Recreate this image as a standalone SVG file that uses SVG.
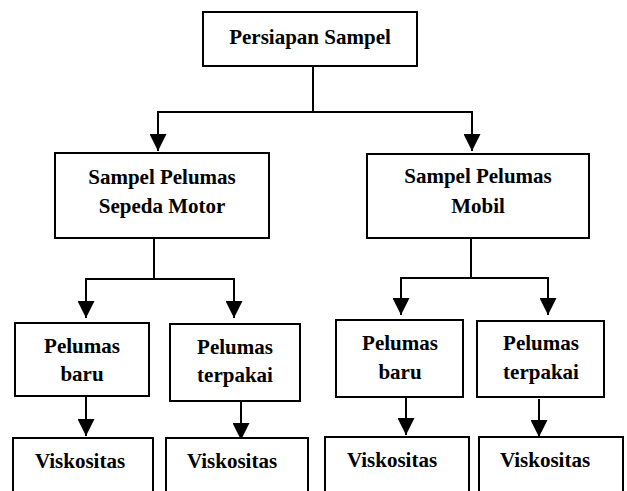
<svg xmlns="http://www.w3.org/2000/svg" width="627" height="491" viewBox="0 0 627 491">
<style>
.box{fill:#fff;stroke:#000;stroke-width:2}
.t{font-family:'Liberation Serif',Tinos,'Times New Roman','DejaVu Serif',serif;font-weight:700;font-size:21px;text-anchor:middle;fill:#000}
.c{fill:none;stroke:#000;stroke-width:2}
</style>
<defs>
<marker id="ah" markerUnits="userSpaceOnUse" markerWidth="18" markerHeight="17" refX="17" refY="8.5" orient="auto" viewBox="0 0 18 17">
<path d="M0,0 L17,8.5 L0,17 z" fill="#000"/>
</marker>
</defs>
<rect width="627" height="491" fill="#fff"/>
<g id="connectors">
<path class="c" d="M313,66 V112 M157,112 H473"/>
<path class="c" d="M158,112 V151" marker-end="url(#ah)"/>
<path class="c" d="M472,112 V151" marker-end="url(#ah)"/>
<path class="c" d="M154,238 V279 M85,279 H235"/>
<path class="c" d="M86,279 V318" marker-end="url(#ah)"/>
<path class="c" d="M234,279 V318" marker-end="url(#ah)"/>
<path class="c" d="M471,238 V278 M400,278 H549"/>
<path class="c" d="M401,278 V315" marker-end="url(#ah)"/>
<path class="c" d="M548,278 V315" marker-end="url(#ah)"/>
<path class="c" d="M86,396 V436" marker-end="url(#ah)"/>
<path class="c" d="M241,401 V440" marker-end="url(#ah)"/>
<path class="c" d="M406,397 V435" marker-end="url(#ah)"/>
<path class="c" d="M539,399 V437" marker-end="url(#ah)"/>
</g>
<g id="persiapan"><rect class="box" x="203" y="12" width="214" height="54"/><text class="t" x="310" y="44" font-family="Liberation Serif, serif">Persiapan Sampel</text></g>
<g id="motor"><rect class="box" x="55" y="153" width="214" height="85"/><text class="t" x="162" y="184">Sampel Pelumas</text><text class="t" x="162" y="213">Sepeda Motor</text></g>
<g id="mobil"><rect class="box" x="367" y="154" width="222" height="84"/><text class="t" x="478" y="183">Sampel Pelumas</text><text class="t" x="478" y="213">Mobil</text></g>
<g id="baru1"><rect class="box" x="15" y="323" width="134" height="73"/><text class="t" x="82" y="353">Pelumas</text><text class="t" x="82" y="381">baru</text></g>
<g id="terpakai1"><rect class="box" x="170" y="324" width="130" height="77"/><text class="t" x="235" y="354">Pelumas</text><text class="t" x="235" y="382">terpakai</text></g>
<g id="baru2"><rect class="box" x="336" y="320" width="127" height="77"/><text class="t" x="400" y="350">Pelumas</text><text class="t" x="400" y="379">baru</text></g>
<g id="terpakai2"><rect class="box" x="477" y="321" width="127" height="76"/><text class="t" x="541" y="350">Pelumas</text><text class="t" x="541" y="379">terpakai</text></g>
<g id="visk1"><rect class="box" x="13" y="438" width="140" height="70"/><text class="t" x="80" y="468">Viskositas</text></g>
<g id="visk2"><rect class="box" x="166" y="438" width="142" height="70"/><text class="t" x="232" y="468">Viskositas</text></g>
<g id="visk3"><rect class="box" x="325" y="437" width="144" height="70"/><text class="t" x="392" y="467">Viskositas</text></g>
<g id="visk4"><rect class="box" x="479" y="437" width="144" height="70"/><text class="t" x="545" y="467">Viskositas</text></g>
</svg>
